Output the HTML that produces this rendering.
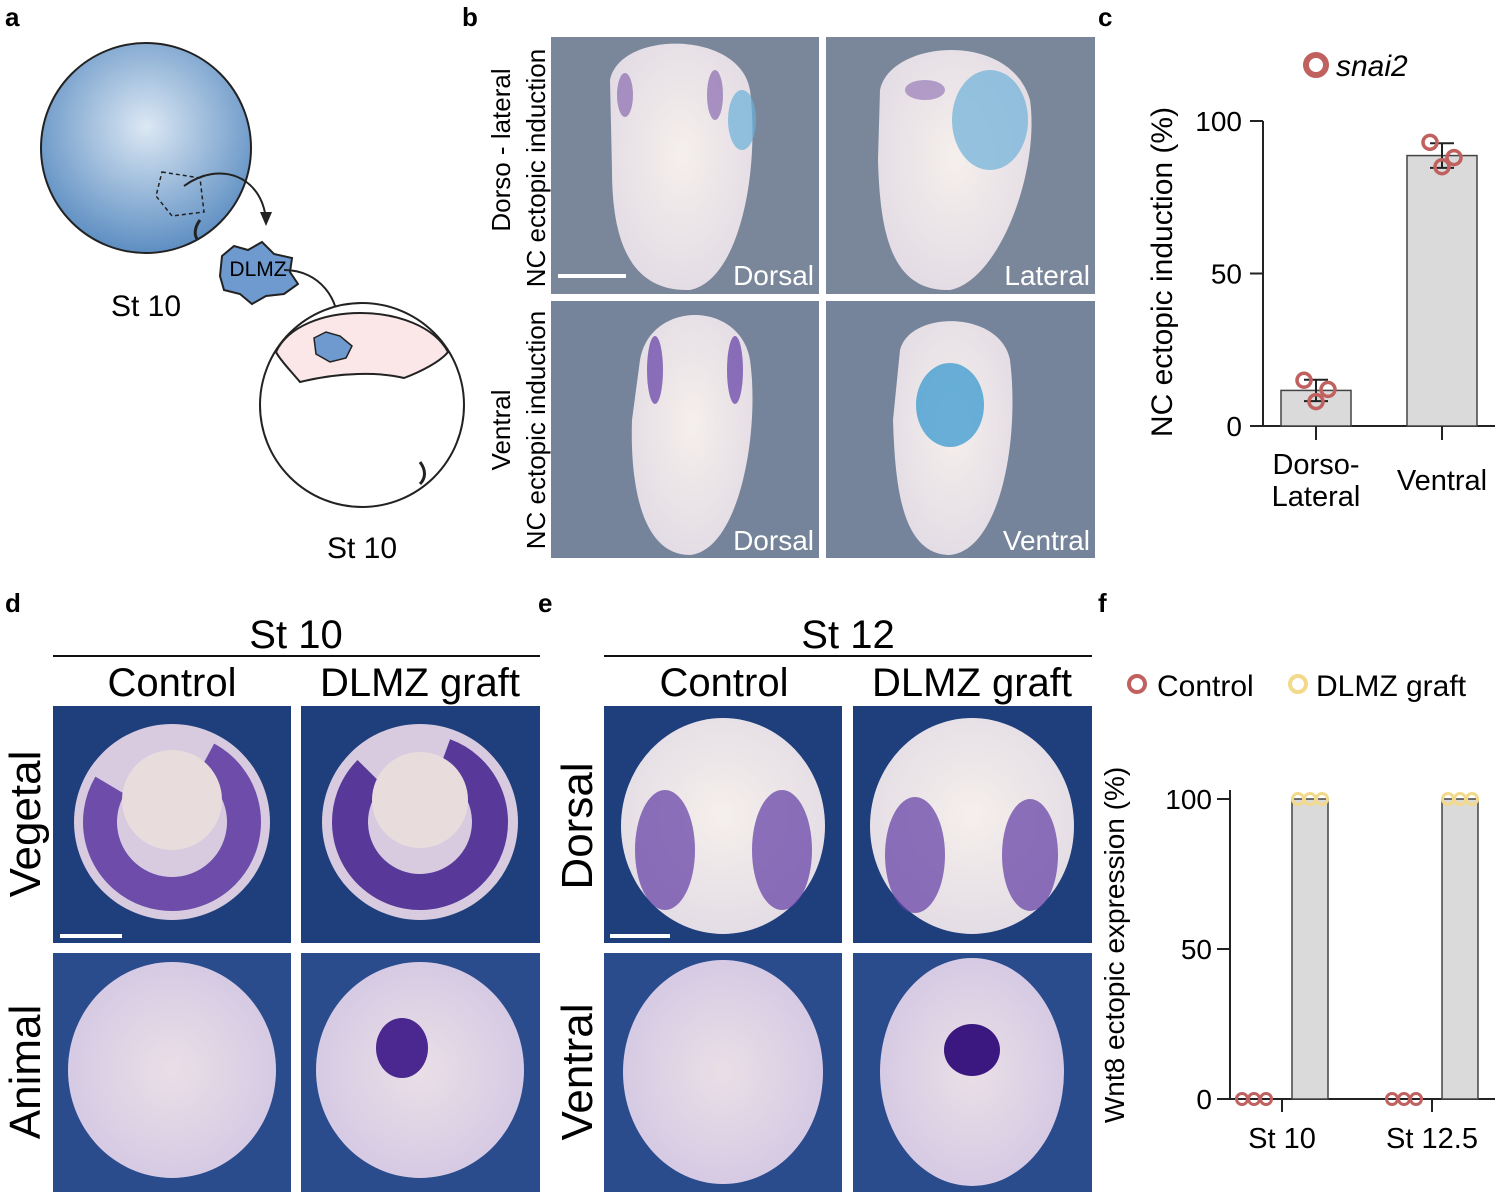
<!DOCTYPE html>
<html><head><meta charset="utf-8"><style>
body{margin:0;background:#fff;font-family:"Liberation Sans",sans-serif}
svg text{font-family:"Liberation Sans",sans-serif}
</style></head><body>
<svg id="fig" width="1506" height="1197" viewBox="0 0 1506 1197" xmlns="http://www.w3.org/2000/svg">
<defs>
<radialGradient id="bg1" cx="0.5" cy="0.4" r="0.6"><stop offset="0" stop-color="#dce8f4"/><stop offset="1" stop-color="#5d8ec2"/></radialGradient>
<radialGradient id="emb" cx="0.5" cy="0.45" r="0.6"><stop offset="0" stop-color="#f5efec"/><stop offset="1" stop-color="#e2dbe4"/></radialGradient>
<radialGradient id="embp" cx="0.5" cy="0.5" r="0.55"><stop offset="0" stop-color="#eadfe6"/><stop offset="1" stop-color="#d4c8e4"/></radialGradient>
</defs>
<g font-weight="bold" font-size="26">
<text x="5" y="26">a</text><text x="462" y="26">b</text><text x="1098" y="26">c</text>
<text x="5" y="612">d</text><text x="538" y="612">e</text><text x="1098" y="612">f</text>
</g>
<!-- panel a -->
<g>
<circle cx="146" cy="148" r="105" fill="url(#bg1)" stroke="#222" stroke-width="2"/>
<path d="M162 172 L200 178 L204 212 L172 216 L156 196 Z" fill="none" stroke="#222" stroke-width="1.5" stroke-dasharray="4 3"/>
<path d="M184 186 C220 160 262 176 266 220" fill="none" stroke="#222" stroke-width="2"/>
<path d="M260 212 L266 226 L272 212" fill="#222"/>
<path d="M200 220 C194 228 194 236 198 240" fill="none" stroke="#222" stroke-width="3"/>
<path d="M222 256 L234 246 L248 250 L262 242 L274 254 L292 258 L290 272 L298 284 L284 294 L266 296 L252 304 L240 294 L224 290 L220 276 Z" fill="#6f9ad0" stroke="#222" stroke-width="2"/>
<text x="258" y="276" font-size="21" text-anchor="middle">DLMZ</text>
<path d="M284 270 C320 270 340 300 338 328" fill="none" stroke="#222" stroke-width="2"/>
<path d="M332 322 L338 336 L344 322" fill="#222"/>
<text x="146" y="316" font-size="30" text-anchor="middle">St 10</text>
<circle cx="362" cy="405" r="102" fill="#fff" stroke="#222" stroke-width="2"/>
<path d="M276 352 C300 300 420 300 448 352 C440 362 420 372 404 378 C380 372 340 372 300 382 C290 370 280 360 276 352 Z" fill="#fbe6e8" stroke="#222" stroke-width="2"/>
<path d="M314 338 L326 332 L340 336 L352 346 L346 358 L330 362 L316 354 Z" fill="#6f9ad0" stroke="#222" stroke-width="1.5"/>
<path d="M420 462 C426 470 426 478 420 484" fill="none" stroke="#222" stroke-width="3"/>
<text x="362" y="558" font-size="30" text-anchor="middle">St 10</text>
</g>
<!-- panel b -->
<g>
<rect x="551" y="37" width="268" height="257" fill="#7a879a"/>
<rect x="826" y="37" width="269" height="257" fill="#7a879a"/>
<rect x="551" y="301" width="268" height="257" fill="#75849a"/>
<rect x="826" y="301" width="269" height="257" fill="#75849a"/>
<path d="M610 80 C620 30 740 30 750 90 C760 170 740 280 690 290 C630 292 612 240 612 170 Z" fill="url(#emb)"/>
<ellipse cx="625" cy="95" rx="8" ry="22" fill="#8a6bb0" opacity="0.7"/><ellipse cx="715" cy="95" rx="8" ry="25" fill="#8a6bb0" opacity="0.7"/>
<ellipse cx="742" cy="120" rx="14" ry="30" fill="#6ab0d8" opacity="0.7"/>
<path d="M880 90 C890 40 1010 30 1030 100 C1040 170 1000 280 950 290 C890 292 880 230 878 160 Z" fill="url(#emb)"/>
<ellipse cx="990" cy="120" rx="38" ry="50" fill="#6cb0d8" opacity="0.7"/><ellipse cx="925" cy="90" rx="20" ry="10" fill="#8a6bb0" opacity="0.6"/>
<path d="M640 360 C650 300 740 300 750 360 C760 430 740 550 690 555 C640 555 630 480 632 420 Z" fill="url(#emb)"/>
<ellipse cx="655" cy="370" rx="8" ry="34" fill="#6a45a8" opacity="0.75"/><ellipse cx="735" cy="370" rx="8" ry="34" fill="#6a45a8" opacity="0.75"/>
<path d="M900 350 C910 310 1000 310 1010 360 C1020 440 1000 550 950 555 C900 555 895 480 893 420 Z" fill="url(#emb)"/>
<ellipse cx="950" cy="405" rx="34" ry="42" fill="#3a9ad0" opacity="0.75"/>
<line x1="558" y1="276" x2="626" y2="276" stroke="#fff" stroke-width="4"/>
<g fill="#fff" font-size="28" text-anchor="end"><text x="814" y="285">Dorsal</text><text x="1090" y="285">Lateral</text><text x="814" y="550">Dorsal</text><text x="1090" y="550">Ventral</text></g>
<g font-size="26" text-anchor="middle">
<text transform="translate(510,150) rotate(-90)">Dorso - lateral</text>
<text transform="translate(545,168) rotate(-90)">NC ectopic induction</text>
<text transform="translate(510,430) rotate(-90)">Ventral</text>
<text transform="translate(545,430) rotate(-90)">NC ectopic induction</text>
</g>
</g>
<!-- panel d/e -->
<g>
<text x="296" y="648" font-size="40" text-anchor="middle">St 10</text>
<line x1="53" y1="656" x2="540" y2="656" stroke="#111" stroke-width="2"/>
<text x="172" y="696" font-size="40" text-anchor="middle">Control</text>
<text x="420" y="696" font-size="40" text-anchor="middle">DLMZ graft</text>
<rect x="53" y="706" width="238" height="237" fill="#1e3e7c"/><rect x="301" y="706" width="239" height="237" fill="#1e3e7c"/>
<rect x="53" y="953" width="238" height="239" fill="#2a4c8c"/><rect x="301" y="953" width="239" height="239" fill="#2a4c8c"/>
<circle cx="172" cy="822" r="98" fill="#d8cbe0"/><circle cx="172" cy="822" r="72" fill="none" stroke="#5a36a0" stroke-width="34" opacity="0.85" stroke-dasharray="340 110" transform="rotate(-60 172 822)"/>
<circle cx="172" cy="800" r="50" fill="#e8dcdc"/>
<circle cx="420" cy="822" r="98" fill="#d8cbe0"/><circle cx="420" cy="822" r="70" fill="none" stroke="#4a2890" stroke-width="36" opacity="0.9" stroke-dasharray="360 90" transform="rotate(-70 420 822)"/>
<circle cx="420" cy="800" r="48" fill="#e8dcdc"/>
<ellipse cx="172" cy="1070" rx="104" ry="108" fill="url(#embp)"/>
<ellipse cx="420" cy="1070" rx="104" ry="108" fill="url(#embp)"/><ellipse cx="402" cy="1048" rx="26" ry="30" fill="#4a2890"/>
<line x1="60" y1="936" x2="122" y2="936" stroke="#fff" stroke-width="4"/>
<g font-size="44" text-anchor="middle"><text transform="translate(40,824) rotate(-90)">Vegetal</text><text transform="translate(40,1072) rotate(-90)">Animal</text></g>
</g>
<g>
<text x="848" y="648" font-size="40" text-anchor="middle">St 12</text>
<line x1="604" y1="656" x2="1092" y2="656" stroke="#111" stroke-width="2"/>
<text x="724" y="696" font-size="40" text-anchor="middle">Control</text>
<text x="972" y="696" font-size="40" text-anchor="middle">DLMZ graft</text>
<rect x="604" y="706" width="238" height="237" fill="#1e3e7c"/><rect x="853" y="706" width="239" height="237" fill="#1e3e7c"/>
<rect x="604" y="953" width="238" height="239" fill="#2a4c8c"/><rect x="853" y="953" width="239" height="239" fill="#2a4c8c"/>
<ellipse cx="723" cy="826" rx="102" ry="108" fill="url(#emb)"/>
<ellipse cx="665" cy="850" rx="30" ry="60" fill="#6a45a8" opacity="0.75"/><ellipse cx="782" cy="850" rx="30" ry="60" fill="#6a45a8" opacity="0.75"/>
<ellipse cx="972" cy="826" rx="102" ry="108" fill="url(#emb)"/>
<ellipse cx="915" cy="855" rx="30" ry="58" fill="#6a45a8" opacity="0.75"/><ellipse cx="1030" cy="855" rx="28" ry="56" fill="#6a45a8" opacity="0.75"/>
<ellipse cx="723" cy="1072" rx="100" ry="112" fill="url(#embp)"/>
<ellipse cx="972" cy="1072" rx="92" ry="114" fill="url(#embp)"/><ellipse cx="972" cy="1050" rx="28" ry="26" fill="#3a1880"/>
<line x1="610" y1="936" x2="670" y2="936" stroke="#fff" stroke-width="4"/>
<g font-size="44" text-anchor="middle"><text transform="translate(592,826) rotate(-90)">Dorsal</text><text transform="translate(592,1072) rotate(-90)">Ventral</text></g>
</g>
<g id="chartC"></g>
<g id="chartF"></g>
</svg>
<script>
const cCategories = [['Dorso-','Lateral'],['Ventral']];
const cPoints = [[15,12,8],[93,88,85]];
const cTicks = [0,50,100];
const fCategories = ['St 10','St 12.5'];
const fControl = [[0,0,0],[0,0,0]];
const fGraft = [[100,100,100],[100,100,100]];
const fTicks = [0,50,100];
const NS='http://www.w3.org/2000/svg';
function mk(p,t,a){const e=document.createElementNS(NS,t);for(const k in a)e.setAttribute(k,a[k]);p.appendChild(e);return e;}
function mean(a){return a.reduce((s,v)=>s+v,0)/a.length;}
function sd(a){const m=mean(a);return Math.sqrt(a.reduce((s,v)=>s+(v-m)*(v-m),0)/(a.length-1));}
// panel c
(function(){
const g=document.getElementById('chartC');
const y=v=>426-v*3.05; const xc=i=>1316+i*126;
const ax=mk(g,'path',{d:'M1263 121 L1263 426 L1495 426',fill:'none',stroke:'#222','stroke-width':2});

cTicks.forEach(t=>{const l=mk(g,'line',{x1:1250,x2:1263,y1:y(t),y2:y(t),stroke:'#222','stroke-width':2});

const tx=mk(g,'text',{x:1242,y:y(t)+10,'font-size':28,'text-anchor':'end'});tx.textContent=t;
});
cPoints.forEach((pts,i)=>{const m=mean(pts),s=sd(pts),x=xc(i);
const b=mk(g,'rect',{x:x-35,y:y(m),width:70,height:426-y(m),fill:'#dadada',stroke:'#444','stroke-width':1.5});

mk(g,'line',{x1:x,x2:x,y1:426,y2:440,stroke:'#222','stroke-width':2});
const e=mk(g,'path',{d:`M${x-12} ${y(m+s)} H${x+12} M${x} ${y(m+s)} V${y(m-s)} M${x-12} ${y(m-s)} H${x+12}`,stroke:'#222','stroke-width':2,fill:'none'});

pts.forEach((v,j)=>{const c=mk(g,'circle',{cx:x+[-12,12,0][j],cy:y(v),r:7,fill:'none',stroke:'#c0615f','stroke-width':3.5});
});
cCategories[i].forEach((ln,k)=>{const t=mk(g,'text',{x:x,y:(cCategories[i].length>1?474:490)+k*32,'font-size':29,'text-anchor':'middle'});t.textContent=ln;
});
});
const yt=mk(g,'text',{transform:'translate(1172,272) rotate(-90)','font-size':30,'text-anchor':'middle'});yt.textContent='NC ectopic induction (%)';

const lc=mk(g,'circle',{cx:1316,cy:65,r:10,fill:'none',stroke:'#c0615f','stroke-width':6});

const lt=mk(g,'text',{x:1336,y:76,'font-size':30,'font-style':'italic'});lt.textContent='snai2';

})();
// panel f
(function(){
const g=document.getElementById('chartF');
const y=v=>1099-v*3.0; const xc=i=>1282+i*150;
const ax=mk(g,'path',{d:'M1230 790 L1230 1099 L1495 1099',fill:'none',stroke:'#222','stroke-width':2});

fTicks.forEach(t=>{const l=mk(g,'line',{x1:1217,x2:1230,y1:y(t),y2:y(t),stroke:'#222','stroke-width':2});

const tx=mk(g,'text',{x:1212,y:y(t)+10,'font-size':28,'text-anchor':'end'});tx.textContent=t;
});
fCategories.forEach((cat,i)=>{const x=xc(i);
mk(g,'line',{x1:x,x2:x,y1:1099,y2:1112,stroke:'#222','stroke-width':2});
const gm=mean(fGraft[i]);
const b=mk(g,'rect',{x:x+10,y:y(gm),width:36,height:1099-y(gm),fill:'#dadada',stroke:'#444','stroke-width':1.5});

fControl[i].forEach((v,j)=>{const c=mk(g,'circle',{cx:x-40+j*12,cy:y(v),r:5.5,fill:'none',stroke:'#c0615f','stroke-width':3});
});
fGraft[i].forEach((v,j)=>{const c=mk(g,'circle',{cx:x+16+j*12,cy:y(v),r:5.5,fill:'none',stroke:'#f3d98a','stroke-width':3});
});
const t=mk(g,'text',{x:x,y:1148,'font-size':29,'text-anchor':'middle'});t.textContent=cat;
});
const yt=mk(g,'text',{transform:'translate(1124,945) rotate(-90)','font-size':28,'text-anchor':'middle'});yt.textContent='Wnt8 ectopic expression (%)';

const l1=mk(g,'circle',{cx:1137,cy:684,r:8,fill:'none',stroke:'#c0615f','stroke-width':4});

const t1=mk(g,'text',{x:1157,y:696,'font-size':30});t1.textContent='Control';

const l2=mk(g,'circle',{cx:1298,cy:684,r:8,fill:'none',stroke:'#f3d98a','stroke-width':4});

const t2=mk(g,'text',{x:1316,y:696,'font-size':30});t2.textContent='DLMZ graft';

})();
</script>
</body></html>
